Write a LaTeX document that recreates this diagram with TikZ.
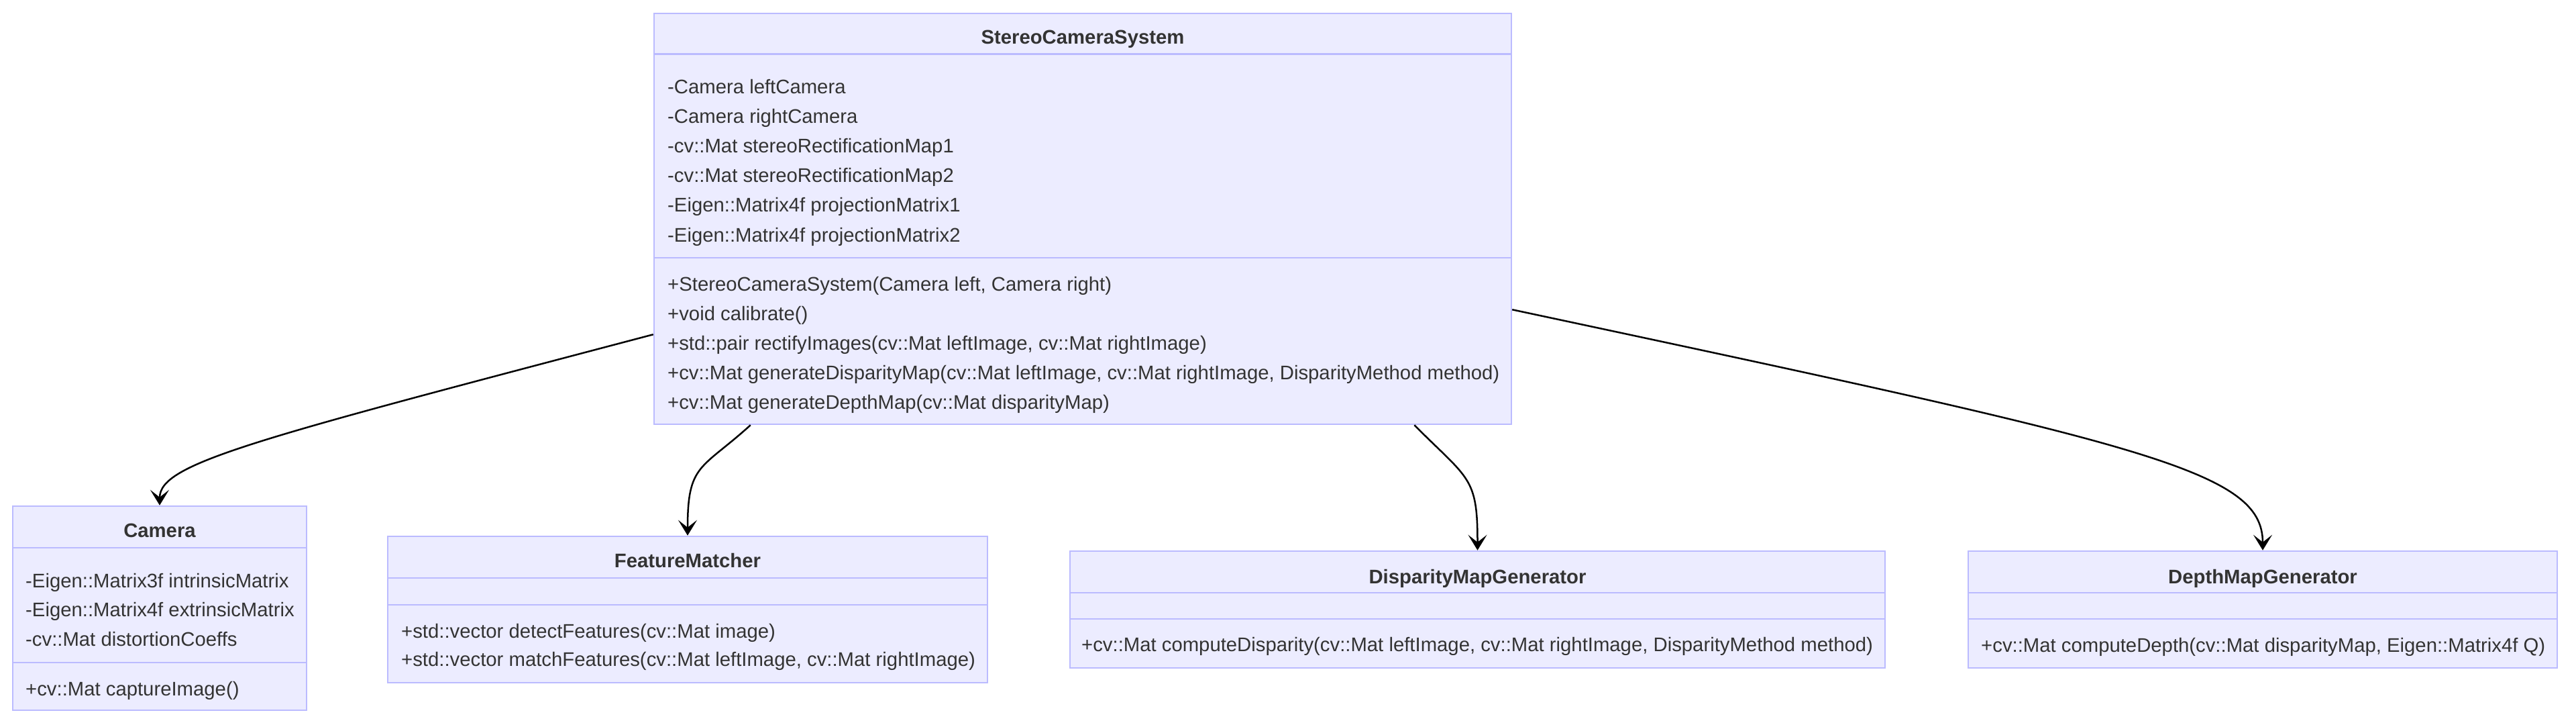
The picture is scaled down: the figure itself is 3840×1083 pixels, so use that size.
\documentclass[tikz,border=0pt]{standalone}
\usepackage{fontspec}
\setmainfont{Liberation Sans}
\usetikzlibrary{arrows.meta,calc}
\definecolor{boxfill}{HTML}{ECECFF}
\definecolor{boxline}{HTML}{BBBBFF}
\definecolor{txt}{HTML}{333333}
\begin{document}
\begin{tikzpicture}[x=1pt,y=-1pt,
  classbox/.style={rectangle, draw=boxline, fill=boxfill, line width=2.5pt, inner sep=0pt},
  divider/.style={draw=boxline, line width=2.5pt},
  member/.style={anchor=west, inner sep=0pt, text=txt, font=\fontsize{29.3}{35}\selectfont, text height=30pt, text depth=6pt},
  title/.style={anchor=center, inner sep=0pt, text=txt, font=\fontsize{29.3}{35}\selectfont\bfseries, text height=30pt, text depth=6pt},
  rel/.style={draw=black, line width=2.5pt, -{Stealth[length=23pt,width=28pt,inset=11pt]}}
]
\useasboundingbox (0,0) rectangle (3840,1083);

% StereoCameraSystem
\node[classbox, minimum width=1278pt, minimum height=612pt] (scs) at (1614,326) {};
\draw[divider] ($(scs.north west)+(0,62)$) -- ($(scs.north east)+(0,62)$);
\draw[divider] ($(scs.north west)+(0,365)$) -- ($(scs.north east)+(0,365)$);
\node[title] (scs-t) at (1614,54) {StereoCameraSystem};
\node[member] (scs-a1) at (995,128) {-Camera leftCamera};
\node[member] (scs-a2) at (995,172) {-Camera rightCamera};
\node[member] (scs-a3) at (995,216) {-cv::Mat stereoRectificationMap1};
\node[member] (scs-a4) at (995,260) {-cv::Mat stereoRectificationMap2};
\node[member] (scs-a5) at (995,304) {-Eigen::Matrix4f projectionMatrix1};
\node[member] (scs-a6) at (995,348) {-Eigen::Matrix4f projectionMatrix2};
\node[member] (scs-m1) at (995,421) {+StereoCameraSystem(Camera left, Camera right)};
\node[member] (scs-m2) at (995,465) {+void calibrate()};
\node[member] (scs-m3) at (995,509) {+std::pair rectifyImages(cv::Mat leftImage, cv::Mat rightImage)};
\node[member] (scs-m4) at (995,553) {+cv::Mat generateDisparityMap(cv::Mat leftImage, cv::Mat rightImage, DisparityMethod method)};
\node[member] (scs-m5) at (995,597) {+cv::Mat generateDepthMap(cv::Mat disparityMap)};

% Camera
\node[classbox, minimum width=438pt, minimum height=304pt] (cam) at (238,906) {};
\draw[divider] ($(cam.north west)+(0,63)$) -- ($(cam.north east)+(0,63)$);
\draw[divider] ($(cam.north west)+(0,234)$) -- ($(cam.north east)+(0,234)$);
\node[title] (cam-t) at (238,788) {Camera};
\node[member] (cam-a1) at (38,863) {-Eigen::Matrix3f intrinsicMatrix};
\node[member] (cam-a2) at (38,906) {-Eigen::Matrix4f extrinsicMatrix};
\node[member] (cam-a3) at (38,950) {-cv::Mat distortionCoeffs};
\node[member] (cam-m1) at (38,1024) {+cv::Mat captureImage()};

% FeatureMatcher
\node[classbox, minimum width=894pt, minimum height=218pt] (fm) at (1025,908) {};
\draw[divider] ($(fm.north west)+(0,63)$) -- ($(fm.north east)+(0,63)$);
\draw[divider] ($(fm.north west)+(0,103)$) -- ($(fm.north east)+(0,103)$);
\node[title] (fm-t) at (1025,833) {FeatureMatcher};
\node[member] (fm-m1) at (598,938) {+std::vector detectFeatures(cv::Mat image)};
\node[member] (fm-m2) at (598,980) {+std::vector matchFeatures(cv::Mat leftImage, cv::Mat rightImage)};

% DisparityMapGenerator
\node[classbox, minimum width=1215pt, minimum height=174pt] (dmg) at (2202.5,908) {};
\draw[divider] ($(dmg.north west)+(0,63)$) -- ($(dmg.north east)+(0,63)$);
\draw[divider] ($(dmg.north west)+(0,102)$) -- ($(dmg.north east)+(0,102)$);
\node[title] (dmg-t) at (2202.5,857) {DisparityMapGenerator};
\node[member] (dmg-m1) at (1612,958) {+cv::Mat computeDisparity(cv::Mat leftImage, cv::Mat rightImage, DisparityMethod method)};

% DepthMapGenerator
\node[classbox, minimum width=878pt, minimum height=174pt] (dep) at (3373,908) {};
\draw[divider] ($(dep.north west)+(0,63)$) -- ($(dep.north east)+(0,63)$);
\draw[divider] ($(dep.north west)+(0,102)$) -- ($(dep.north east)+(0,102)$);
\node[title] (dep-t) at (3373,857) {DepthMapGenerator};
\node[member] (dep-m1) at (2953,959) {+cv::Mat computeDepth(cv::Mat disparityMap, Eigen::Matrix4f Q)};

% relations
\draw[rel] ($(scs.south west)+(0,-135)$) .. controls (375,656) and (238,690) .. (cam.north);
\draw[rel] ($(scs.south west)+(145,0)$) .. controls (1045,700) and (1025,690) .. (fm.north);
\draw[rel] ($(scs.south east)+(-146,0)$) .. controls (2190,715) and (2202.5,710) .. (dmg.north);
\draw[rel] ($(scs.south east)+(0,-172)$) .. controls (3200,663) and (3373,700) .. (dep.north);
\end{tikzpicture}
\end{document}
